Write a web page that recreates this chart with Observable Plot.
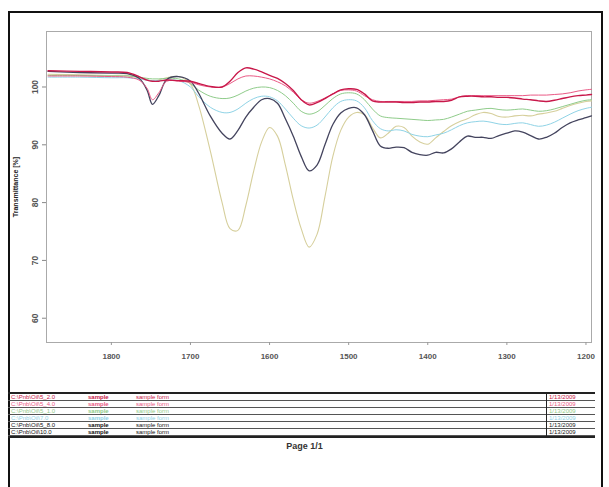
<!DOCTYPE html>
<html><head><meta charset="utf-8">
<script src="https://cdn.jsdelivr.net/npm/d3@7"></script>
<script src="https://cdn.jsdelivr.net/npm/@observablehq/plot@0.6"></script>
<style>
body{margin:0;background:#fff;font-family:"Liberation Sans",Arial,sans-serif;}
#page{position:absolute;left:8px;top:11px;width:591px;height:480px;border-left:2px solid #111;border-top:2px solid #111;border-right:2px solid #111;}
#chart{position:absolute;left:0;top:0;}
#legend{position:absolute;left:8px;top:392px;width:587px;border-top:2px solid #222;border-bottom:2px solid #222;}
.row{position:relative;height:6px;border-bottom:1px solid #555;font-size:6px;line-height:6px;white-space:nowrap;}
.row:last-child{border-bottom:none;}
.row span{position:absolute;top:0;}
#vline{position:absolute;left:538px;top:0;bottom:0;border-left:1px solid #222;}
#pageno{position:absolute;left:0;width:609px;top:441px;text-align:center;font-size:9px;font-weight:bold;color:#333;}
</style></head>
<body>
<div id="page"></div>
<div id="chart"></div>
<div id="legend"></div>
<div id="pageno">Page 1/1</div>
<script>
const wavenumbers = [1880,1840,1800,1780,1765,1755,1748,1740,1730,1715,1700,1690,1675,1660,1650,1640,1630,1620,1610,1600,1590,1580,1570,1560,1550,1540,1530,1520,1510,1500,1490,1480,1470,1460,1450,1440,1430,1420,1410,1400,1390,1380,1370,1360,1350,1340,1330,1320,1310,1300,1290,1280,1270,1260,1250,1240,1230,1220,1210,1200,1193];
const redSeries = [102.8,102.7,102.6,102.5,101.8,101.2,101.0,101.0,101.2,101.1,101.0,100.6,100.1,100.0,101.0,102.5,103.3,103.1,102.6,102.0,101.5,100.6,99.4,97.8,96.9,97.3,98.0,98.8,99.5,99.7,99.6,98.8,97.6,97.4,97.4,97.4,97.3,97.3,97.4,97.4,97.5,97.5,97.7,98.3,98.4,98.4,98.3,98.3,98.2,98.2,98.1,97.9,97.8,97.6,97.5,97.7,98.0,98.3,98.5,98.6,98.7];
const pinkSeries = [101.9,101.9,101.8,101.7,101.2,99.8,97.8,99.0,101.0,101.0,100.8,100.4,100.0,100.0,100.6,101.4,101.9,101.9,101.7,101.4,100.9,100.2,99.1,97.8,97.2,97.5,98.1,98.8,99.4,99.5,99.3,98.5,97.8,97.5,97.5,97.5,97.5,97.5,97.6,97.6,97.7,97.8,97.9,98.3,98.5,98.5,98.5,98.5,98.5,98.5,98.5,98.5,98.6,98.6,98.6,98.7,98.8,99.0,99.3,99.5,99.6];
const greenSeries = [102.0,102.0,101.9,101.9,101.7,101.5,101.4,101.4,101.5,101.4,100.6,99.5,98.4,98.0,98.1,98.6,99.3,99.8,100.0,99.9,99.4,98.5,97.2,95.8,95.3,95.7,96.8,98.0,98.8,99.0,98.8,97.8,96.2,95.0,94.7,94.6,94.5,94.4,94.3,94.2,94.3,94.4,94.8,95.3,95.8,96.0,96.2,96.3,96.1,96.0,96.1,96.2,96.0,95.8,95.9,96.2,96.6,97.0,97.4,97.7,97.8];
const cyanSeries = [101.7,101.7,101.6,101.6,101.4,101.2,101.1,101.1,101.2,101.1,100.0,98.4,96.5,95.6,95.6,96.2,97.2,98.0,98.4,98.3,97.6,96.2,94.6,93.3,92.9,93.4,94.8,96.4,97.5,97.8,97.6,96.4,94.2,92.8,92.4,92.6,92.4,91.8,91.5,91.4,91.7,92.0,92.6,93.3,93.8,94.0,94.1,93.9,93.6,93.5,93.7,93.8,93.5,93.2,93.4,93.9,94.6,95.3,95.9,96.3,96.5];
const darkSeries = [102.7,102.5,102.4,102.3,101.5,99.5,97.0,98.5,101.3,101.8,101.0,99.0,95.0,92.0,91.0,92.5,94.8,96.5,97.8,98.0,97.2,94.5,91.5,88.0,85.5,86.5,90.0,93.5,95.5,96.3,96.4,95.2,92.5,89.8,89.4,89.6,89.5,88.7,88.3,88.2,88.7,88.6,89.3,90.5,91.5,91.3,91.3,91.1,91.6,92.0,92.4,92.2,91.6,91.0,91.3,92.0,93.0,93.8,94.3,94.7,95.0];
const khakiSeries = [102.2,102.1,102.0,102.0,101.6,101.3,101.0,101.2,101.6,101.8,100.5,97.0,89.0,80.0,75.5,75.2,79.5,85.5,90.5,93.0,91.5,86.5,80.5,75.5,72.3,74.5,81.0,88.0,92.5,94.8,95.6,95.2,93.0,91.2,92.0,93.2,93.0,91.5,90.5,90.1,91.2,92.3,93.3,94.0,94.5,95.2,95.6,95.4,94.9,94.8,95.0,95.1,95.0,95.3,95.5,95.8,96.3,96.8,97.2,97.5,97.6];

const xTicks = [1800,1700,1600,1500,1400,1300,1200];
const yTicks = [100,90,80,70,60];

const seriesNames = ["C:\\Pnb\\Oil\\5_2.0","C:\\Pnb\\Oil\\5_4.0","C:\\Pnb\\Oil\\5_1.0","C:\\Pnb\\Oil\\7.0","C:\\Pnb\\Oil\\5_8.0","C:\\Pnb\\Oil\\10.0"];
const sampleCol = ["sample","sample","sample","sample","sample","sample"];
const formCol = ["sample form","sample form","sample form","sample form","sample form","sample form"];
const dateCol = ["1/13/2009","1/13/2009","1/13/2009","1/13/2009","1/13/2009","1/13/2009"];
const seriesColors = ["#c8184a","#ea5a86","#8fcc8a","#8fd3e6","#44445e","#d6cf9c"];
const seriesValues = [redSeries,pinkSeries,greenSeries,cyanSeries,darkSeries,khakiSeries];
const strokeWidths = [1.4,1.0,1.0,1.0,1.3,1.1];
const drawOrder = [5,3,2,4,1,0];

const marks = [Plot.frame({stroke:"#aaa"})];
for (const i of drawOrder) {
  const data = wavenumbers.map((w,j)=>({w, v: seriesValues[i][j]}));
  marks.push(Plot.line(data,{x:"w",y:"v",stroke:seriesColors[i],strokeWidth:strokeWidths[i],curve:"catmull-rom"}));
}
marks.push(Plot.axisX({ticks:xTicks,tickSize:3,tickPadding:8,fontSize:8,fontWeight:"bold",fill:"#555",stroke:"#999",label:null,tickFormat:d=>String(d)}));
marks.push(Plot.axisY({ticks:yTicks,tickSize:4,tickPadding:5,tickRotate:-90,fontSize:8.5,fontWeight:"bold",fill:"#555",stroke:"#888",label:"Transmittance [%]",labelAnchor:"center",labelArrow:"none",labelOffset:33}));

const chart = Plot.plot({
  width:592, height:370,
  marginLeft:46, marginRight:1, marginTop:31, marginBottom:28,
  x:{domain:[1193,1882], reverse:true},
  y:{domain:[55.8,109.6]},
  style:{fontFamily:"Liberation Sans, Arial, sans-serif", background:"transparent", overflow:"visible"},
  marks
});
document.getElementById("chart").appendChild(chart);
d3.select(chart).selectAll("[aria-label='y-axis label'] text, [aria-label='y-axis label']").attr("font-size",7).attr("fill","#222");

const leg = d3.select("#legend");
seriesNames.forEach((n,i)=>{
  const r = leg.append("div").attr("class","row").style("color", i>=4 ? "#111" : seriesColors[i]);
  r.append("span").style("left","3px").text(n);
  r.append("span").style("left","80px").style("font-weight","bold").text(sampleCol[i]);
  r.append("span").style("left","128px").text(formCol[i]);
  r.append("span").style("left","541px").style("color", i>=4 ? "#222" : seriesColors[i]).text(dateCol[i]);
});
leg.append("div").attr("id","vline");
</script>
</body></html>
